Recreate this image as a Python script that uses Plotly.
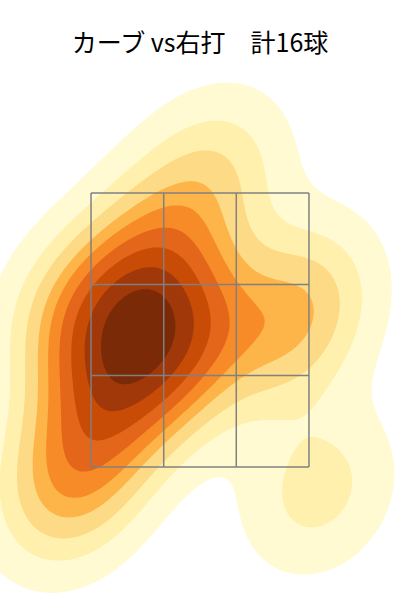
import numpy as np
import plotly.graph_objects as go

# pitch locations (plate x, height)
pitch_x = [-0.59, -0.27, -0.70, -0.43, -0.04, -0.62, -0.23, -0.78,
           -0.94, -1.05, -0.98, 0.12, -0.31, 0.82, 0.66, 0.92]
pitch_y = [2.76, 2.79, 2.46, 2.43, 2.50, 2.14, 2.21, 1.84,
           1.55, 1.26, 2.65, 3.67, 3.23, 2.76, 2.43, 1.33]

zone_x = [-0.85, -0.283, 0.283, 0.85]
zone_y = [1.5, 2.167, 2.833, 3.5]

band_colors = ["#fffad2", "#fff0ad", "#fdda85", "#fdb449", "#f78b27",
               "#e4661a", "#c84b06", "#a0380a", "#7a2a06"]
n_levels = 10
thresh = 0.05


def kde(data, xx, yy):
    n = data.shape[1]
    factor = n ** (-1 / 6)
    cov = np.cov(data) * factor ** 2
    inv = np.linalg.inv(cov)
    norm = 1 / (2 * np.pi * np.sqrt(np.linalg.det(cov)) * n)
    pts = np.stack([xx.ravel(), yy.ravel()])
    out = np.zeros(pts.shape[1])
    for i in range(n):
        d = pts - data[:, i:i + 1]
        out += np.exp(-0.5 * np.sum(d * (inv @ d), axis=0))
    return (out * norm).reshape(xx.shape), cov


data = np.array([pitch_x, pitch_y])
_, cov = kde(data, np.zeros((1, 1)), np.zeros((1, 1)))
bw = np.sqrt(np.diag(cov))
gx = np.linspace(data[0].min() - 3 * bw[0], data[0].max() + 3 * bw[0], 200)
gy = np.linspace(data[1].min() - 3 * bw[1], data[1].max() + 3 * bw[1], 200)
dens, _ = kde(data, *np.meshgrid(gx, gy))

# iso-proportion levels, the way seaborn picks them
iso = np.linspace(thresh, 1, n_levels)
vals = np.sort(dens.ravel())[::-1]
cum = np.cumsum(vals) / vals.sum()
levels = np.sort(np.take(vals, np.searchsorted(cum, 1 - iso), mode="clip"))

px_ = np.linspace(-1.6, 1.6, 320)
py_ = np.linspace(0.4, 4.6, 420)
pd_, _ = kde(data, *np.meshgrid(px_, py_))
z = np.interp(pd_, levels, np.arange(n_levels))
low = pd_ < levels[0]
z[low] = pd_[low] / levels[0] - 1

scale = [[0, "rgba(255,255,255,0)"]] + [
    [(i + 1) / 9, c] for i, c in enumerate(band_colors)
]

fig = go.Figure()
fig.add_trace(go.Contour(
    x=px_, y=py_, z=z,
    autocontour=False,
    contours=dict(start=0, end=8, size=1, coloring="fill", showlines=False),
    colorscale=scale,
    line=dict(width=0),
    showscale=False,
    hoverinfo="skip",
))

for xv in zone_x:
    fig.add_shape(type="line", x0=xv, x1=xv, y0=zone_y[0], y1=zone_y[-1],
                  line=dict(color="#808080", width=1.5))
for yv in zone_y:
    fig.add_shape(type="line", x0=zone_x[0], x1=zone_x[-1], y0=yv, y1=yv,
                  line=dict(color="#808080", width=1.5))

fig.update_xaxes(range=[-1.56, 1.56], visible=False)
fig.update_yaxes(range=[0.529, 4.471], visible=False)
fig.update_layout(
    width=400, height=600,
    title=dict(text="カーブ vs右打　計16球", x=0.5, xanchor="center",
               y=1 - 43 / 600, yanchor="middle", yref="container",
               font=dict(family="Noto Sans CJK JP", size=25, color="black")),
    margin=dict(l=0, r=0, t=60, b=0),
    plot_bgcolor="white", paper_bgcolor="white",
    showlegend=False,
)
fig.write_html("out.html", config={"displayModeBar": False},
               post_script="document.body.style.margin = '0';")
